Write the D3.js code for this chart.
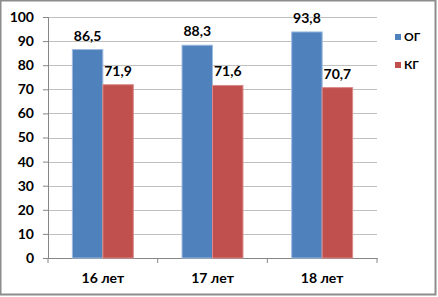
<!DOCTYPE html>
<html>
<head>
<meta charset="utf-8">
<script src="https://d3js.org/d3.v7.min.js"></script>
<style>
  body { margin: 0; background: #fff; }
  svg text { font-family: Lato, "Open Sans", sans-serif; font-weight: bold; fill: #000; }
</style>
</head>
<body>
<svg id="chart" width="438" height="297"></svg>
<script>
var categories = ["16 лет", "17 лет", "18 лет"];
var seriesNames = ["ОГ", "КГ"];
var ogValues = [86.5, 88.3, 93.8];
var kgValues = [71.9, 71.6, 70.7];
var yTicks = [0, 10, 20, 30, 40, 50, 60, 70, 80, 90, 100];

var colors = ["#4f81bd", "#c0504d"];
var strokes = ["#9dbbe0", "#d98a88"];

var margin = { top: 17, left: 48, right: 61, bottom: 39 },
    W = 438, H = 297,
    width = W - margin.left - margin.right,
    height = H - margin.top - margin.bottom;

var svg = d3.select("#chart");

// outer frame
svg.append("rect")
  .attr("x", 0.5).attr("y", 0.5)
  .attr("width", W - 3).attr("height", H - 3)
  .attr("fill", "#fff")
  .attr("stroke", "#8c8c8c").attr("stroke-width", 2);

var g = svg.append("g").attr("transform", "translate(" + margin.left + "," + margin.top + ")");

var x = d3.scaleBand().domain(categories).range([0, width]);
var y = d3.scaleLinear().domain([0, 100]).range([height, 0]);

// gridlines
g.selectAll(".grid").data(yTicks.slice(1)).enter().append("line")
  .attr("x1", 0).attr("x2", width)
  .attr("y1", function(d) { return Math.round(y(d)) + 0.5; })
  .attr("y2", function(d) { return Math.round(y(d)) + 0.5; })
  .attr("stroke", "#c0c0c0");

// y axis
var yAxis = g.append("g").attr("class", "y axis")
  .call(d3.axisLeft(y).tickValues(yTicks).tickSize(5).tickPadding(9));
yAxis.select(".domain").attr("stroke", "#868686");
yAxis.selectAll(".tick line").attr("stroke", "#868686");
yAxis.selectAll("text").style("font-size", "14px");

// x axis
var xAxis = g.append("g").attr("class", "x axis")
  .attr("transform", "translate(0," + height + ")")
  .call(d3.axisBottom(x).tickSize(0).tickPadding(15));
xAxis.select(".domain").attr("stroke", "#868686");
xAxis.selectAll("text").style("font-size", "14px");
// category boundary ticks
g.selectAll(".xtick").data([0, 1, 2, 3]).enter().append("line")
  .attr("x1", function(i) { return i * x.step(); })
  .attr("x2", function(i) { return i * x.step(); })
  .attr("y1", height).attr("y2", height + 5)
  .attr("stroke", "#868686");

// bars
var groupWidth = x.bandwidth() * 2 / 3.6;
var inner = d3.scaleBand().domain(seriesNames).range([0, groupWidth]);
var series = [ogValues, kgValues];

series.forEach(function(vals, s) {
  var rows = categories.map(function(c, i) { return { c: c, v: vals[i] }; });
  var off = (x.bandwidth() - groupWidth) / 2 + inner(seriesNames[s]);
  g.selectAll(".bar" + s).data(rows).enter().append("rect")
    .attr("x", function(d) { return x(d.c) + off; })
    .attr("y", function(d) { return y(d.v); })
    .attr("width", inner.bandwidth())
    .attr("height", function(d) { return height - y(d.v); })
    .attr("fill", colors[s])
    .attr("stroke", strokes[s]).attr("stroke-width", 1);
  g.selectAll(".lbl" + s).data(rows).enter().append("text")
    .attr("x", function(d) { return x(d.c) + off + inner.bandwidth() / 2; })
    .attr("y", function(d) { return y(d.v) - 9; })
    .attr("text-anchor", "middle")
    .style("font-size", "14px")
    .text(function(d) { return d3.format(".1f")(d.v).replace(".", ","); });
});

// legend
var legend = svg.append("g").attr("transform", "translate(395,0)");
seriesNames.forEach(function(name, i) {
  var yy = 37 + i * 28;
  legend.append("rect").attr("x", 0).attr("y", yy - 3).attr("width", 6).attr("height", 6)
    .attr("fill", colors[i]);
  legend.append("text").attr("x", 9).attr("y", yy).attr("dy", "0.35em")
    .style("font-size", "12px").text(name);
});
</script>
</body>
</html>
